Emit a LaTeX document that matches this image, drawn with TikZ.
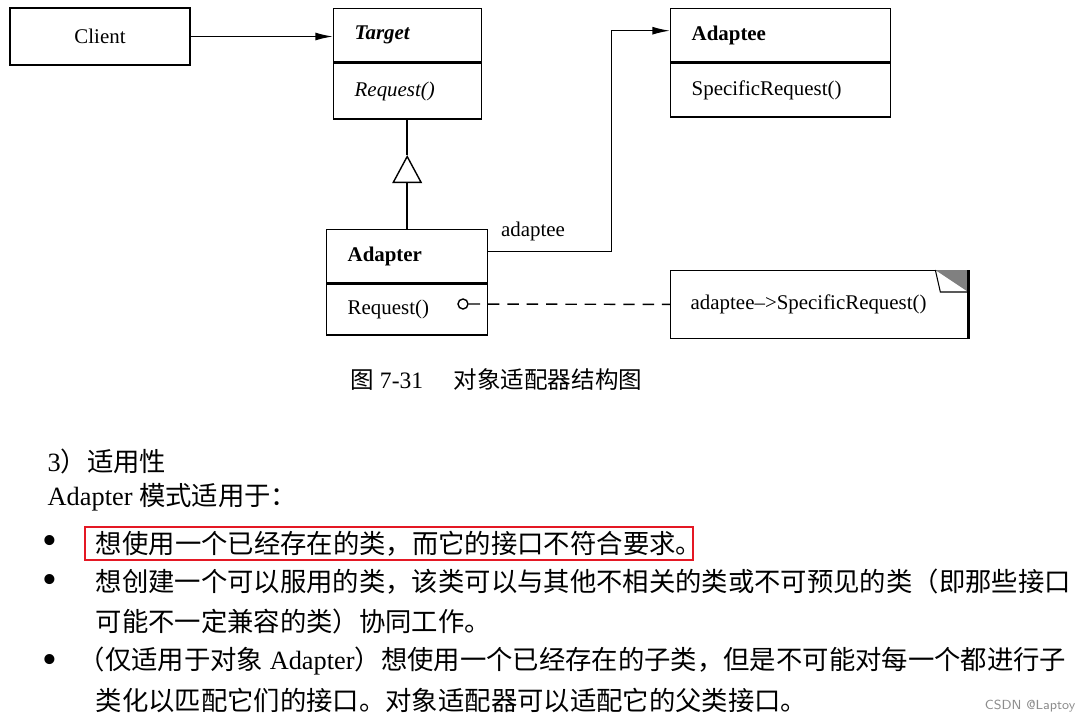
\documentclass[tikz,border=0pt]{standalone}
\usepackage{fontspec}
\setmainfont{Liberation Serif}
\newfontfamily\cjk{Noto Sans CJK SC}
\usepackage{tikz}
\usepackage{xcolor}
\usetikzlibrary{arrows.meta,positioning,calc}
\definecolor{markred}{RGB}{228,24,36}

\begin{document}
\begin{tikzpicture}[x=0.02cm, y=-0.02cm, line width=0.8pt,
    cls/.style={draw, anchor=north west, align=left, inner xsep=0.42cm, inner ysep=0pt, font=\fontsize{11.9}{14}\selectfont},
    body/.style={anchor=west, inner sep=0pt, font=\fontsize{15}{18}\selectfont},
    bullet/.style={anchor=center, inner sep=0pt, font=\fontsize{24}{24}\selectfont},
    assoc/.style={-{Latex[length=10pt, width=4.5pt]}}]
    \useasboundingbox (0,0) rectangle (1083,718);

    % Class boxes
    \node[draw, minimum width=3.6cm, minimum height=1.14cm, font=\fontsize{11.9}{14}\selectfont] (client) at (100,36.5) {Client};
    \node[cls, text width=2.12cm, minimum height=1.06cm] (targeth) at (333,8) {\textbf{\textit{Target}}};
    \node[cls, text width=2.12cm, minimum height=1.12cm] (targeto) at (targeth.south west) {\textit{Request()}};
    \node[cls, text width=3.56cm, minimum height=1.06cm] (adapteeh) at (670,8) {\textbf{Adaptee}};
    \node[cls, text width=3.56cm, minimum height=1.08cm] (adapteeo) at (adapteeh.south west) {SpecificRequest()};
    \node[cls, text width=2.38cm, minimum height=1.06cm] (adapterh) at (326,229) {\textbf{Adapter}};
    \node[cls, text width=2.38cm, minimum height=1.02cm] (adaptero) at (adapterh.south west) {Request()};

    % Note
    \node[cls, text width=5.14cm, minimum height=1.36cm, inner xsep=0.4cm] (note) at (670,270) {adaptee--{}>SpecificRequest()};
    \fill[black!50] ($(note.north east)+(-33,0)$) -- (note.north east) -- ($(note.north east)+(0,22)$) -- cycle;
    \draw[line width=0.6pt] ($(note.north east)+(-33,0)$) -- ($(note.north east)+(-28,22)$) -- ($(note.north east)+(0,22)$);
    \draw[line width=2pt] (note.north east) -- (note.south east);
    \node[circle, draw, inner sep=0pt, minimum size=0.2cm] (hook) at (463,304) {};

    % Connect nodes
    \draw[assoc] (client.east) -- (client.east -| targeth.west);
    \draw[-{Triangle[open, length=16pt, width=17pt]}] (adapterh.north) -- ++(0,-74) coordinate (apex);
    \draw (apex) -- (apex |- targeto.south);
    \draw[assoc] ([yshift=0.1cm]adapterh.east) -- ++(123,0) |- ([yshift=0.09cm]adapteeh.west);
    \draw[dashed, dash pattern=on 6.5pt off 4.5pt] (hook) -- (note);

    % Labels
    \node[font=\fontsize{11.9}{14}\selectfont] (role) at (533,231) {adaptee};
    \node[anchor=west, font=\fontsize{13.4}{16}\selectfont] (cap) at (344,380) {{\cjk 图} 7-31\hspace{1.3em}{\cjk 对象适配器结构图}};

    % Text
    \node[body] (sec) at (47,461) {3{\cjk ）适用性}};
    \node[body] (intro) at (47,497) {Adapter {\cjk 模式适用于：}};
    \node[bullet] (dot1) at (50,545) {•};
    \node[body, draw=markred, line width=1.1pt, inner xsep=0.22cm, minimum height=0.66cm] (item1) at (84,543.5) {\cjk 想使用一个已经存在的类，而它的接口不符合要求。\kern-0.75em};
    \node[bullet] (dot2) at (50,584) {•};
    \node[body] (item2) at (95,582) {\cjk 想创建一个可以服用的类，该类可以与其他不相关的类或不可预见的类（即那些接口};
    \node[body] (item2b) at (95,621) {\cjk 可能不一定兼容的类）协同工作。};
    \node[bullet] (dot3) at (50,664) {•};
    \node[body] (item3) at (78,661) {{\cjk （仅适用于对象} Adapter{\cjk ）想使用一个已经存在的子类，但是不可能对每一个都进行子}};
    \node[body] (item3b) at (95,700) {\cjk 类化以匹配它们的接口。对象适配器可以适配它的父类接口。};
    \node[anchor=east, inner sep=0pt, text=black!45, font=\fontsize{7.5}{9}\selectfont\sffamily] (mark) at (1076,706) {CSDN @Laptoy};
\end{tikzpicture}
\end{document}
